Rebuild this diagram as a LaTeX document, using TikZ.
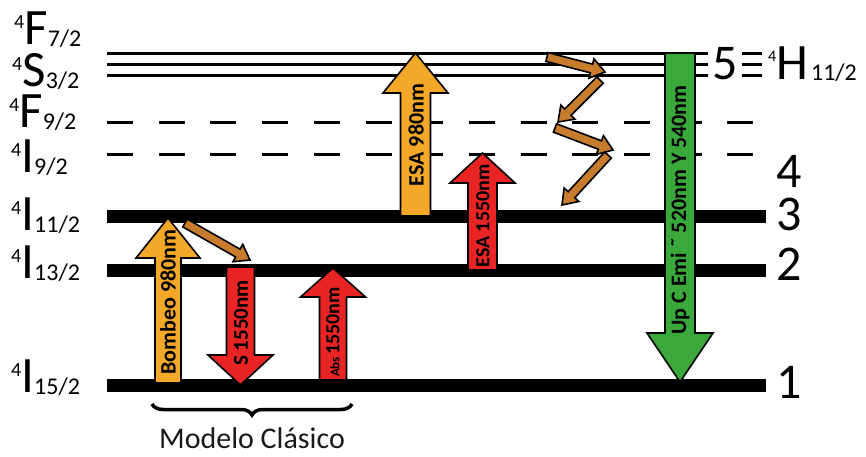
\documentclass[tikz,border=0pt]{standalone}
\usepackage{fontspec}
\setmainfont{Carlito}
\usetikzlibrary{calc,decorations.pathreplacing}
\definecolor{amber}{RGB}{244,168,40}
\definecolor{rust}{RGB}{198,124,44}
\definecolor{redarrow}{RGB}{232,36,36}
\definecolor{greenarrow}{RGB}{58,168,58}
\newcommand\lvlab[3]{\raisebox{16pt}{\fontsize{20}{20}\selectfont #1}\fontsize{51}{51}\selectfont #2\raisebox{-2pt}{\fontsize{24}{24}\selectfont #3}}
\newcommand\blockarrow[6]{%
  \coordinate (hb) at ($(#2)!#5!(#1)$);
  \filldraw[blockline, fill=#6]
    ($(#1)!#3!90:(#2)$) -- ($(hb)!#3!90:(#2)$) -- ($(hb)!#4!90:(#2)$) -- (#2)
    -- ($(hb)!#4!-90:(#2)$) -- ($(hb)!#3!-90:(#2)$) -- ($(#1)!#3!-90:(#2)$) -- cycle;}
\begin{document}
\begin{tikzpicture}[x=1pt,y=-1pt,
  thinlevel/.style={line width=3pt},
  dashlevel/.style={line width=3pt, dash pattern=on 26pt off 25.7pt},
  thicklevel/.style={line width=13pt},
  blockline/.style={draw=black, line width=1.6pt, line join=miter},
  lvlname/.style={anchor=base west, inner sep=0pt},
  numlab/.style={anchor=base west, inner sep=0pt, font=\fontsize{50}{50}\selectfont},
  arrtext/.style={rotate=90, inner sep=0pt, font=\bfseries}]
\fill[white] (0,0) rectangle (866,457);
\useasboundingbox (0,0) rectangle (866,457);

% level lines
\foreach \yy/\nm in {54/a,65/b,76/c}{
  \coordinate (t\nm L) at (107,\yy);
  \coordinate (t\nm R) at (708,\yy);
  \draw[thinlevel] (t\nm L) -- (t\nm R);
  \coordinate (e\nm L) at (742,\yy);
  \coordinate (e\nm R) at (762,\yy);
  \draw[thinlevel] (e\nm L) -- (e\nm R);
}
\coordinate (d1L) at (107,123); \coordinate (d1R) at (760,123);
\coordinate (d2L) at (107,155); \coordinate (d2R) at (760,155);
\draw[dashlevel] (d1L) -- (d1R);
\draw[dashlevel] (d2L) -- (d2R);
\coordinate (l3L) at (107,216); \coordinate (l3R) at (766,216);
\coordinate (l2L) at (107,270); \coordinate (l2R) at (766,270);
\coordinate (l1L) at (107,385); \coordinate (l1R) at (766,385);
\draw[thicklevel] (l3L) -- (l3R);
\draw[thicklevel] (l2L) -- (l2R);
\draw[thicklevel] (l1L) -- (l1R);

% left labels
\node[lvlname] (nF7) at (14,45) {\lvlab{4}{F}{7/2}};
\node[lvlname] (nS3) at (12,87) {\lvlab{4}{S}{3/2}};
\node[lvlname] (nF9) at (9,128) {\lvlab{4}{F}{9/2}};
\node[lvlname] (nI9) at (11,172) {\lvlab{4}{I}{9/2}};
\node[lvlname] (nI11) at (11,230) {\lvlab{4}{I}{11/2}};
\node[lvlname] (nI13) at (11,278) {\lvlab{4}{I}{13/2}};
\node[lvlname] (nI15) at (11,392) {\lvlab{4}{I}{15/2}};

% right labels
\node[numlab] (n5) at (712,80) {5};
\node[lvlname] (nH) at (768,80) {\raisebox{18pt}{\fontsize{16}{16}\selectfont 4}\fontsize{51}{51}\selectfont H\kern3pt\raisebox{-1pt}{\fontsize{24}{24}\selectfont 11/2}};
\node[numlab] (n4) at (776,187) {4};
\node[numlab] (n3) at (776,230) {3};
\node[numlab] (n2) at (776,280) {2};
\node[numlab] (n1) at (776,398) {1};

% block arrows
\coordinate (bombA) at (168,383); \coordinate (bombB) at (168,218);
\blockarrow{bombA}{bombB}{13pt}{32pt}{40pt}{amber}
\coordinate (sA) at (240.5,267); \coordinate (sB) at (240.5,385);
\blockarrow{sA}{sB}{14pt}{32.5pt}{30pt}{redarrow}
\coordinate (absA) at (333,380); \coordinate (absB) at (333,268);
\blockarrow{absA}{absB}{13.5pt}{32.5pt}{29pt}{redarrow}
\coordinate (esaA) at (415.5,216); \coordinate (esaB) at (415.5,53);
\blockarrow{esaA}{esaB}{15pt}{32.5pt}{40pt}{amber}
\coordinate (esbA) at (482.5,270); \coordinate (esbB) at (482.5,153);
\blockarrow{esbA}{esbB}{14.5pt}{32.5pt}{30pt}{redarrow}
\coordinate (gA) at (680,53); \coordinate (gB) at (680,382);
\blockarrow{gA}{gB}{15pt}{33pt}{49pt}{greenarrow}

% small relaxation arrows
\coordinate (r0A) at (185,223); \coordinate (r0B) at (250,260);
\blockarrow{r0A}{r0B}{4.5pt}{10pt}{14pt}{rust}
\coordinate (r1A) at (547,57); \coordinate (r1B) at (605,72);
\blockarrow{r1A}{r1B}{4.5pt}{10pt}{14pt}{rust}
\coordinate (r2A) at (600,80); \coordinate (r2B) at (558,122);
\blockarrow{r2A}{r2B}{4.5pt}{10pt}{14pt}{rust}
\coordinate (r3A) at (555,128); \coordinate (r3B) at (613,150);
\blockarrow{r3A}{r3B}{4.5pt}{10pt}{14pt}{rust}
\coordinate (r4A) at (608,155); \coordinate (r4B) at (562,205);
\blockarrow{r4A}{r4B}{4.5pt}{10pt}{14pt}{rust}

% arrow texts
\node[arrtext, font=\bfseries\fontsize{22}{22}\selectfont] (tbomb) at (168,302) {Bombeo 980nm};
\node[arrtext, font=\bfseries\fontsize{21}{21}\selectfont] (ts) at (241,323) {S 1550nm};
\node[arrtext] (tabs) at (333,332) {{\fontsize{13}{13}\selectfont Abs} {\fontsize{20}{20}\selectfont 1550nm}};
\node[arrtext, font=\bfseries\fontsize{22}{22}\selectfont] (tesa) at (416,135) {ESA 980nm};
\node[arrtext, font=\bfseries\fontsize{20}{20}\selectfont] (tesb) at (483,216) {ESA 1550nm};
\node[arrtext, font=\bfseries\fontsize{22}{22}\selectfont] (tg) at (680,210) {Up C Emi ˜ 520nm Y 540nm};

% brace
\coordinate (brL) at (152,404); \coordinate (brR) at (352,404);
\draw[decorate, decoration={brace, mirror, amplitude=11pt}, line width=3.5pt] (brL) -- (brR);
\node[inner sep=0pt, font=\fontsize{30}{30}\selectfont, text=black!90] (modelo) at (252,438) {Modelo Clásico};
\end{tikzpicture}
\end{document}
